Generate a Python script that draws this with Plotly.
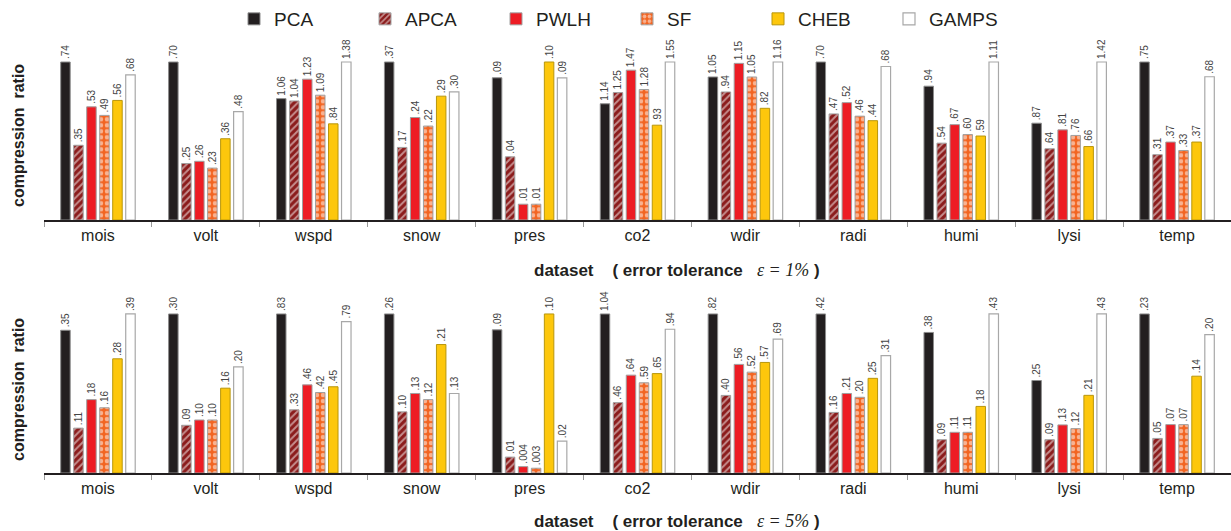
import plotly.graph_objects as go

datasets = ["mois", "volt", "wspd", "snow", "pres", "co2", "wdir", "radi", "humi", "lysi", "temp"]
methods = ["PCA", "APCA", "PWLH", "SF", "CHEB", "GAMPS"]

# compression ratio, error tolerance 1%
r1_PCA   = [0.74, 0.70, 1.06, 0.37, 0.09, 1.14, 1.05, 0.70, 0.94, 0.87, 0.75]
r1_APCA  = [0.35, 0.25, 1.04, 0.17, 0.04, 1.25, 0.94, 0.47, 0.54, 0.64, 0.31]
r1_PWLH  = [0.53, 0.26, 1.23, 0.24, 0.01, 1.47, 1.15, 0.52, 0.67, 0.81, 0.37]
r1_SF    = [0.49, 0.23, 1.09, 0.22, 0.01, 1.28, 1.05, 0.46, 0.60, 0.76, 0.33]
r1_CHEB  = [0.56, 0.36, 0.84, 0.29, 0.10, 0.93, 0.82, 0.44, 0.59, 0.66, 0.37]
r1_GAMPS = [0.68, 0.48, 1.38, 0.30, 0.09, 1.55, 1.16, 0.68, 1.11, 1.42, 0.68]

# compression ratio, error tolerance 5%
r5_PCA   = [0.35, 0.30, 0.83, 0.26, 0.09, 1.04, 0.82, 0.42, 0.38, 0.25, 0.23]
r5_APCA  = [0.11, 0.09, 0.33, 0.10, 0.01, 0.46, 0.40, 0.16, 0.09, 0.09, 0.05]
r5_PWLH  = [0.18, 0.10, 0.46, 0.13, 0.004, 0.64, 0.56, 0.21, 0.11, 0.13, 0.07]
r5_SF    = [0.16, 0.10, 0.42, 0.12, 0.003, 0.59, 0.52, 0.20, 0.11, 0.12, 0.07]
r5_CHEB  = [0.28, 0.16, 0.45, 0.21, 0.10, 0.65, 0.57, 0.25, 0.18, 0.21, 0.14]
r5_GAMPS = [0.39, 0.20, 0.79, 0.13, 0.02, 0.94, 0.69, 0.31, 0.43, 0.43, 0.20]

series1 = [r1_PCA, r1_APCA, r1_PWLH, r1_SF, r1_CHEB, r1_GAMPS]
series5 = [r5_PCA, r5_APCA, r5_PWLH, r5_SF, r5_CHEB, r5_GAMPS]

styles = {
    "PCA":   dict(color="#231f20", line=dict(color="#8c8c8c", width=1)),
    "APCA":  dict(color="#8b1c1c", line=dict(color="#a0a0a0", width=1),
                  pattern=dict(shape="/", bgcolor="#8b1c1c", fgcolor="white", size=5, solidity=0.4)),
    "PWLH":  dict(color="#ed1c24", line=dict(color="#a0a0a0", width=1)),
    "SF":    dict(color="#f26522", line=dict(color="#a0a0a0", width=1),
                  pattern=dict(shape=".", bgcolor="#f26522", fgcolor="white", size=6, solidity=0.45)),
    "CHEB":  dict(color="#fdc70c", line=dict(color="#b8960c", width=1)),
    "GAMPS": dict(color="white", line=dict(color="#a8a8a8", width=1.2)),
}


def fmt(v):
    s = f"{v:.3f}" if v < 0.01 else f"{v:.2f}"
    return s[1:] if s.startswith("0") else s


def normalized(series):
    maxes = [max(col) for col in zip(*series)]
    return [[v / m for v, m in zip(s, maxes)] for s in series]


fig = go.Figure()
for row, (series, xa, ya) in enumerate([(series1, "x", "y"), (series5, "x2", "y2")]):
    heights = normalized(series)
    for name, vals, h in zip(methods, series, heights):
        fig.add_trace(go.Bar(
            name=name, x=datasets, y=h, xaxis=xa, yaxis=ya,
            text=[fmt(v) for v in vals], textposition="outside", textangle=-90,
            constraintext="none", cliponaxis=False,
            textfont=dict(size=10, color="#444", family="Liberation Sans"),
            marker=styles[name], showlegend=(row == 0), legendgroup=name,
            customdata=vals, hovertemplate="%{x}: %{customdata}<extra>" + name + "</extra>",
        ))

W, H = 1231, 531
L = 44

axis_x = dict(type="category", showline=True, linecolor="#231f20", linewidth=1.5,
              ticks="outside", tickson="boundaries", ticklen=5, tickcolor="#999",
              tickfont=dict(size=16, color="#231f20", family="Liberation Sans"),
              showgrid=False, zeroline=False)
axis_y = dict(range=[0, 1.15], showline=False, showticklabels=False, ticks="",
              showgrid=False, zeroline=False)

fig.update_layout(
    width=W, height=H,
    margin=dict(l=L, r=0, t=0, b=0),
    paper_bgcolor="white", plot_bgcolor="white",
    barmode="group", bargap=0.277, bargroupgap=0.27,
    font=dict(family="Liberation Sans", color="#231f20"),
    xaxis=dict(axis_x, anchor="y"),
    yaxis=dict(axis_y, domain=[1 - 220 / H, 1 - 38.3 / H], anchor="x"),
    xaxis2=dict(axis_x, anchor="y2"),
    yaxis2=dict(axis_y, domain=[1 - 473 / H, 1 - 290.1 / H], anchor="x2"),
    legend=dict(orientation="h", x=(627 - L) / (W - L), xanchor="center", y=1.0, yanchor="top",
                font=dict(size=19, color="#231f20", family="Liberation Sans"),
                entrywidth=86, bgcolor="rgba(0,0,0,0)"),
    showlegend=True,
)

eps_style = "font-family:Liberation Serif;font-style:italic;font-weight:normal;font-size:18px"
titles = [("1%", 270), ("5%", 521)]
for pct, ypx in titles:
    fig.add_annotation(
        text=f"<b>dataset    ( error tolerance   </b><span style='{eps_style}'>ε = {pct}</span><b> )</b>",
        xref="paper", yref="paper", x=(677 - L) / (W - L), y=1 - ypx / H,
        xanchor="center", yanchor="middle", showarrow=False,
        font=dict(size=17, color="#231f20", family="Liberation Sans"),
    )
for ypx in (136, 390):
    fig.add_annotation(
        text="<b>compression  ratio</b>", textangle=-90,
        xref="paper", yref="paper", x=(18 - L) / (W - L), y=1 - ypx / H,
        xanchor="center", yanchor="middle", showarrow=False,
        font=dict(size=16, color="#231f20", family="Liberation Sans"),
    )

fig.write_html("out.html")
